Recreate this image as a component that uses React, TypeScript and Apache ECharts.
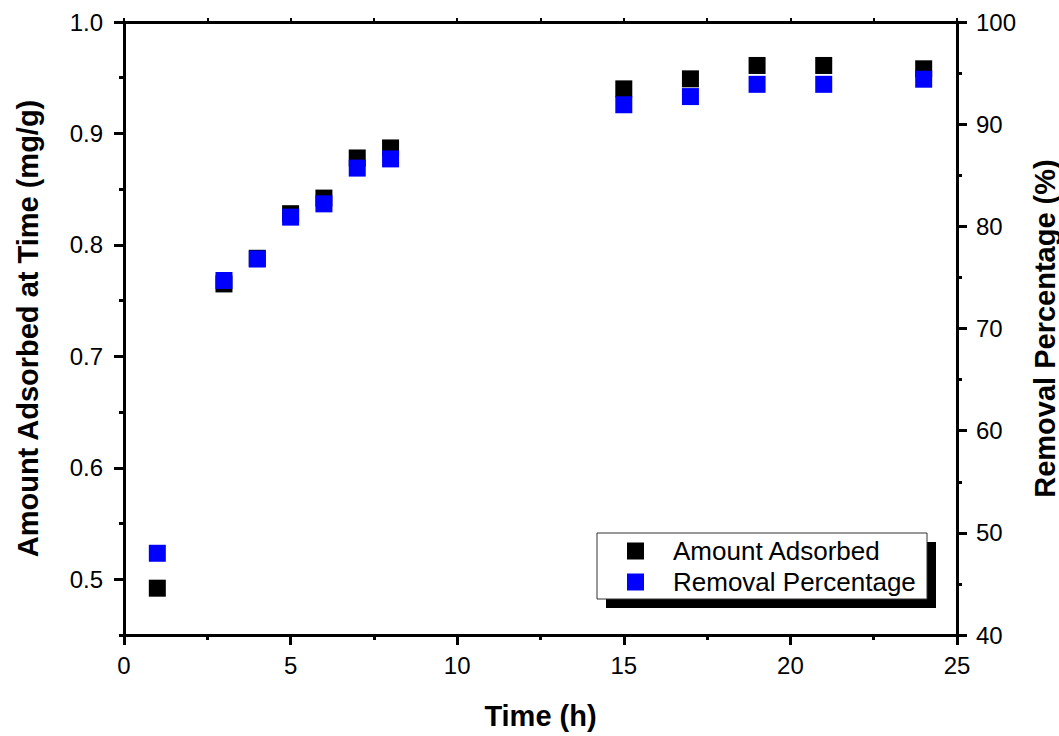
import React, { useEffect, useRef } from "react";
import * as echarts from "echarts";

const timeH = [1, 3, 4, 5, 6, 7, 8, 15, 17, 19, 21, 24];
const amountAdsorbed = [0.492, 0.765, 0.788, 0.828, 0.842, 0.878, 0.887, 0.940, 0.949, 0.961, 0.961, 0.958];
const removalPercentage = [48.0, 74.7, 76.8, 80.9, 82.2, 85.7, 86.6, 91.9, 92.7, 93.9, 93.9, 94.4];
const leftMajorTicks = [0.5, 0.6, 0.7, 0.8, 0.9, 1.0];
const leftMinorTicks = [0.45, 0.55, 0.65, 0.75, 0.85, 0.95];
const seriesNames = ["Amount Adsorbed", "Removal Percentage"];

const FONT = "'Liberation Sans', Arial, sans-serif";

export default function App() {
  const ref = useRef<HTMLDivElement>(null);
  useEffect(() => {
    if (!ref.current) return;
    const chart = echarts.init(ref.current, undefined, { renderer: "svg" });
    const black = "#000000";
    const axisLine = { show: true, lineStyle: { color: black, width: 3 } };
    chart.setOption({
      animation: false,
      backgroundColor: "#ffffff",
      textStyle: { fontFamily: FONT, color: black },
      grid: { left: 124, right: 102, top: 22, bottom: 101, containLabel: false, outerBoundsMode: "none" },
      legend: {
        data: seriesNames,
        orient: "vertical",
        left: 627,
        top: 538,
        padding: 0,
        itemGap: 5,
        itemWidth: 17,
        itemHeight: 17,
        icon: "rect",
        textStyle: { fontSize: 26, color: black, fontFamily: FONT, padding: [0, 0, 0, 24], lineHeight: 26 },
        z: 10,
      },
      graphic: [
        { type: "rect", z: 5, shape: { x: 606, y: 542, width: 330, height: 66 }, style: { fill: black } },
        { type: "rect", z: 6, shape: { x: 597, y: 533, width: 330, height: 66 }, style: { fill: "#ffffff", stroke: "#333333", lineWidth: 1 } },
      ],
      xAxis: [
        {
          type: "value",
          position: "bottom",
          min: 0,
          max: 25,
          interval: 5,
          axisLine,
          axisTick: { show: true, length: 10, lineStyle: { color: black, width: 3 } },
          minorTick: { show: true, splitNumber: 2, length: 5, lineStyle: { color: black, width: 3 } },
          axisLabel: { fontSize: 24, color: black, margin: 18, fontFamily: FONT },
          splitLine: { show: false },
          minorSplitLine: { show: false },
          name: "Time (h)",
          nameLocation: "middle",
          nameGap: 66,
          nameTextStyle: { fontSize: 29, fontWeight: "bold", color: black, fontFamily: FONT },
        },
        {
          type: "value",
          position: "top",
          min: 0,
          max: 25,
          interval: 2.5,
          axisLine,
          axisTick: { show: true, length: 4, lineStyle: { color: black, width: 2 } },
          axisLabel: { show: false },
          splitLine: { show: false },
        },
      ],
      yAxis: [
        {
          type: "value",
          position: "left",
          min: 0.45,
          max: 1.0,
          axisLine,
          axisTick: { show: true, length: 10, customValues: leftMajorTicks, lineStyle: { color: black, width: 3 } },
          axisLabel: {
            fontSize: 24,
            color: black,
            margin: 21,
            fontFamily: FONT,
            customValues: leftMajorTicks,
            formatter: (v: number) => v.toFixed(1),
          },
          splitLine: { show: false },
          name: "Amount Adsorbed at Time (mg/g)",
          nameLocation: "middle",
          nameGap: 82,
          nameTextStyle: { fontSize: 29, fontWeight: "bold", color: black, fontFamily: FONT },
        },
        {
          type: "value",
          position: "left",
          min: 0.45,
          max: 1.0,
          axisLine: { show: false },
          axisTick: { show: true, length: 5, customValues: leftMinorTicks, lineStyle: { color: black, width: 3 } },
          axisLabel: { show: false },
          splitLine: { show: false },
        },
        {
          type: "value",
          position: "right",
          min: 40,
          max: 100,
          interval: 10,
          axisLine,
          axisTick: { show: true, length: 10, lineStyle: { color: black, width: 3 } },
          minorTick: { show: true, splitNumber: 2, length: 5, lineStyle: { color: black, width: 3 } },
          axisLabel: { fontSize: 24, color: black, margin: 19, fontFamily: FONT },
          splitLine: { show: false },
          minorSplitLine: { show: false },
          name: "Removal Percentage (%)",
          nameLocation: "middle",
          nameGap: 73,
          nameTextStyle: { fontSize: 29, fontWeight: "bold", color: black, fontFamily: FONT },
        },
      ],
      series: [
        {
          name: seriesNames[0],
          type: "scatter",
          xAxisIndex: 0,
          yAxisIndex: 0,
          symbol: "rect",
          symbolSize: 17,
          itemStyle: { color: "#000000", opacity: 1 },
          data: timeH.map((t, i) => [t, amountAdsorbed[i]]),
          z: 2,
        },
        {
          name: seriesNames[1],
          type: "scatter",
          xAxisIndex: 0,
          yAxisIndex: 2,
          symbol: "rect",
          symbolSize: 17,
          itemStyle: { color: "#0000ff", opacity: 1 },
          data: timeH.map((t, i) => [t, removalPercentage[i]]),
          z: 3,
        },
      ],
    });
    return () => chart.dispose();
  }, []);
  return (
    <div
      ref={ref}
      style={{ position: "fixed", left: 0, top: 0, width: 1059, height: 736, background: "#fff" }}
    />
  );
}
